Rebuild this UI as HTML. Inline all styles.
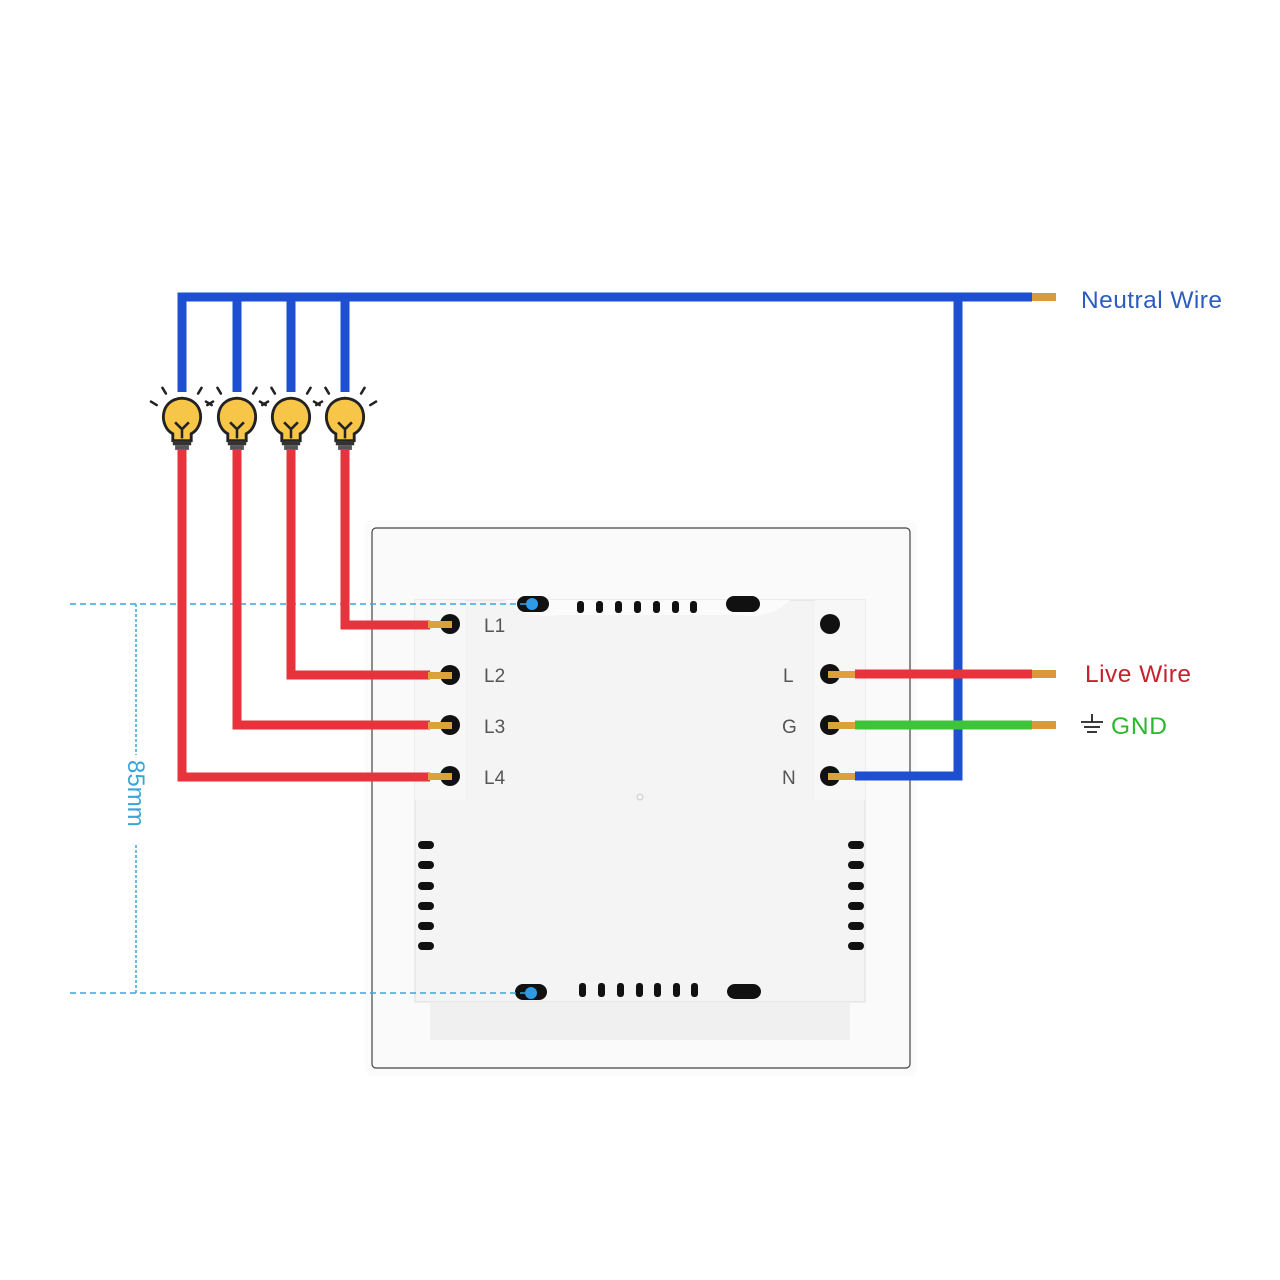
<!DOCTYPE html>
<html><head><meta charset="utf-8"><style>
html,body{margin:0;padding:0;background:#fff;}
svg{display:block;}
text{font-family:"Liberation Sans",sans-serif;}
</style></head><body>
<svg width="1280" height="1280" viewBox="0 0 1280 1280" xmlns="http://www.w3.org/2000/svg">
<defs>
<g id="bulb">
  <g stroke="#222" stroke-width="2.2" stroke-linecap="round">
    <line x1="-22" y1="-13" x2="-27" y2="-16"/>
    <line x1="-14" y1="-23" x2="-17" y2="-28"/>
    <line x1="14" y1="-23" x2="17" y2="-28"/>
    <line x1="22" y1="-13" x2="27" y2="-16"/>
  </g>
  <path d="M-8,12 C-20,6 -20,-18 0,-19 C20,-18 20,6 8,12 L8,18 L-8,18 Z" fill="#f7c548" stroke="#222" stroke-width="2.5"/>
  <path d="M-6,2 L0,8 L6,2 M0,8 L0,16" fill="none" stroke="#222" stroke-width="2.2"/>
  <rect x="-8" y="18" width="16" height="4" fill="#333"/>
  <rect x="-6" y="22" width="12" height="4" fill="#555"/>
</g>
</defs>

<rect x="365" y="520" width="552" height="556" rx="8" fill="#fbfbfb"/>
<rect x="372" y="528" width="538" height="540" rx="4" fill="#fafafa" stroke="#444" stroke-width="1.2"/>
<rect x="415" y="600" width="450" height="402" fill="#f4f4f4" stroke="#ddd"/>
<path d="M430,1002 L850,1002 L850,1040 L430,1040 Z" fill="#f0f0f0"/>
<rect x="415" y="600" width="50" height="200" fill="#f7f7f7"/>
<rect x="815" y="600" width="50" height="200" fill="#f7f7f7"/>
<path d="M505,600 Q525,620 560,615 L740,615 Q770,620 790,600 Z" fill="#fbfbfb"/>
<g fill="#111">
  <rect x="517" y="596" width="32" height="16" rx="8"/>
  <rect x="726" y="596" width="34" height="16" rx="8"/>
  <rect x="577" y="601" width="7" height="12" rx="3"/>
  <rect x="596" y="601" width="7" height="12" rx="3"/>
  <rect x="615" y="601" width="7" height="12" rx="3"/>
  <rect x="634" y="601" width="7" height="12" rx="3"/>
  <rect x="653" y="601" width="7" height="12" rx="3"/>
  <rect x="672" y="601" width="7" height="12" rx="3"/>
  <rect x="690" y="601" width="7" height="12" rx="3"/>
  <rect x="515" y="984" width="32" height="16" rx="8"/>
  <rect x="727" y="984" width="34" height="15" rx="8"/>
  <rect x="579" y="983" width="7" height="14" rx="3"/>
  <rect x="598" y="983" width="7" height="14" rx="3"/>
  <rect x="617" y="983" width="7" height="14" rx="3"/>
  <rect x="636" y="983" width="7" height="14" rx="3"/>
  <rect x="654" y="983" width="7" height="14" rx="3"/>
  <rect x="673" y="983" width="7" height="14" rx="3"/>
  <rect x="691" y="983" width="7" height="14" rx="3"/>
  <rect x="418" y="841" width="16" height="8" rx="4"/>
  <rect x="418" y="861" width="16" height="8" rx="4"/>
  <rect x="418" y="882" width="16" height="8" rx="4"/>
  <rect x="418" y="902" width="16" height="8" rx="4"/>
  <rect x="418" y="922" width="16" height="8" rx="4"/>
  <rect x="418" y="942" width="16" height="8" rx="4"/>
  <rect x="848" y="841" width="16" height="8" rx="4"/>
  <rect x="848" y="861" width="16" height="8" rx="4"/>
  <rect x="848" y="882" width="16" height="8" rx="4"/>
  <rect x="848" y="902" width="16" height="8" rx="4"/>
  <rect x="848" y="922" width="16" height="8" rx="4"/>
  <rect x="848" y="942" width="16" height="8" rx="4"/>
  <circle cx="830" cy="624" r="10"/>
</g>
<circle cx="640" cy="797" r="3" fill="none" stroke="#ccc"/>

<g stroke="#3aa6d8" stroke-width="1.5" stroke-dasharray="6,4" fill="none">
  <line x1="70" y1="604" x2="528" y2="604"/>
  <line x1="70" y1="993" x2="528" y2="993"/>
  <line x1="136" y1="604" x2="136" y2="755" stroke-dasharray="3,2"/>
  <line x1="136" y1="845" x2="136" y2="993" stroke-dasharray="3,2"/>
</g>
<circle cx="532" cy="604" r="6" fill="#2f9be6"/>
<circle cx="531" cy="993" r="6" fill="#2f9be6"/>
<text x="0" y="0" font-size="24" fill="#3aa6d8" transform="translate(128,760) rotate(90)">85mm</text>

<g fill="none" stroke="#1e4fd0" stroke-width="9" stroke-linejoin="miter">
  <polyline points="182,392 182,297 1032,297"/>
  <line x1="237" y1="297" x2="237" y2="392"/>
  <line x1="291" y1="297" x2="291" y2="392"/>
  <line x1="345" y1="297" x2="345" y2="392"/>
  <polyline points="958,297 958,776 855,776"/>
</g>
<rect x="1032" y="293" width="24" height="8" fill="#d89a3a"/>

<use href="#bulb" transform="translate(182,420) scale(1.15)"/>
<use href="#bulb" transform="translate(237,420) scale(1.15)"/>
<use href="#bulb" transform="translate(291,420) scale(1.15)"/>
<use href="#bulb" transform="translate(345,420) scale(1.15)"/>

<g fill="none" stroke="#e8323c" stroke-width="9">
  <polyline points="345,450 345,625 430,625"/>
  <polyline points="291,450 291,675 430,675"/>
  <polyline points="237,450 237,725 430,725"/>
  <polyline points="182,450 182,777 430,777"/>
</g>

<line x1="855" y1="674" x2="1032" y2="674" stroke="#e8323c" stroke-width="9"/>
<line x1="855" y1="725" x2="1032" y2="725" stroke="#3ec43a" stroke-width="9"/>
<rect x="1032" y="670" width="24" height="8" fill="#d89a3a"/>
<rect x="1032" y="721" width="24" height="8" fill="#d89a3a"/>

<g fill="#111">
  <circle cx="450" cy="624" r="10"/><circle cx="450" cy="675" r="10"/>
  <circle cx="450" cy="725" r="10"/><circle cx="450" cy="776" r="10"/>
  <circle cx="830" cy="674" r="10"/><circle cx="830" cy="725" r="10"/>
  <circle cx="830" cy="776" r="10"/>
</g>
<g fill="#dba23a">
  <rect x="428" y="621" width="24" height="7"/>
  <rect x="428" y="672" width="24" height="7"/>
  <rect x="428" y="722" width="24" height="7"/>
  <rect x="428" y="773" width="24" height="7"/>
  <rect x="828" y="671" width="27" height="7"/>
  <rect x="828" y="722" width="27" height="7"/>
  <rect x="828" y="773" width="27" height="7"/>
</g>

<g font-size="19" fill="#555">
  <text x="484" y="632">L1</text>
  <text x="484" y="682">L2</text>
  <text x="484" y="733">L3</text>
  <text x="484" y="784">L4</text>
  <text x="783" y="682">L</text>
  <text x="782" y="733">G</text>
  <text x="782" y="784">N</text>
</g>

<text x="1081" y="308" font-size="24.5" fill="#2d5cc0" textLength="141">Neutral Wire</text>
<text x="1085" y="682" font-size="24.5" fill="#c8202e" textLength="106">Live Wire</text>
<g stroke="#222" stroke-width="1.8">
  <line x1="1092" y1="714" x2="1092" y2="722"/>
  <line x1="1081" y1="722" x2="1103" y2="722"/>
  <line x1="1084" y1="727" x2="1100" y2="727"/>
  <line x1="1087" y1="732" x2="1097" y2="732"/>
</g>
<text x="1111" y="734" font-size="24.5" fill="#2bb82e" textLength="56">GND</text>
</svg>
</body></html>
